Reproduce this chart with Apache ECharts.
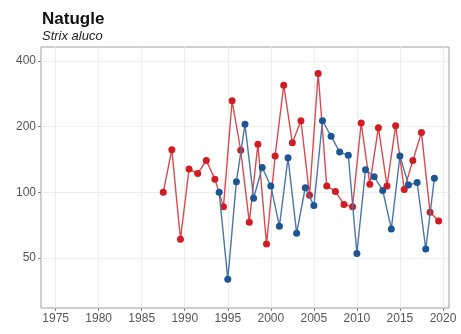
<!DOCTYPE html>
<html><head><meta charset="utf-8">
<script src="https://cdn.jsdelivr.net/npm/echarts@6/dist/echarts.min.js"></script>
<style>html,body{margin:0;padding:0;background:#fff}#c{width:461px;height:334px}</style>
</head><body><div id="c"></div>
<script>
// Red series: plotted at mid-year positions
const redYears = [1987.5,1988.5,1989.5,1990.5,1991.5,1992.5,1993.5,1994.5,1995.5,1996.5,1997.5,1998.5,1999.5,2000.5,2001.5,2002.5,2003.5,2004.5,2005.5,2006.5,2007.5,2008.5,2009.5,2010.5,2011.5,2012.5,2013.5,2014.5,2015.5,2016.5,2017.5,2018.5,2019.5];
const redValues = [100,157,61,128,122,140,115,86,263,156,73,166,58,147,310,169,213,97,351,107,101,88,86,208,109,198,107,202,103,140,188,81,74];
const blueYears = [1994,1995,1996,1997,1998,1999,2000,2001,2002,2003,2004,2005,2006,2007,2008,2009,2010,2011,2012,2013,2014,2015,2016,2017,2018,2019];
const blueValues = [100,40,112,205,94,130,107,70,144,65,105,87,213,181,153,148,52.5,127,118,102,68,147,108,111,55,116];
const xTicks = [1975,1980,1985,1990,1995,2000,2005,2010,2015,2020];
const yTicks = [50,100,200,400];
const titleText = 'Natugle';
const subtitleText = 'Strix aluco';

const chart = echarts.init(document.getElementById('c'), null, {renderer:'canvas'});
const font = '"Liberation Sans", Arial, sans-serif';
chart.setOption({
  animation:false,
  backgroundColor:'#fff',
  title:{
    text:titleText, subtext:subtitleText, left:37, top:6, itemGap:2,
    textStyle:{fontFamily:font,fontWeight:'bold',fontSize:17,color:'#111'},
    subtextStyle:{fontFamily:font,fontStyle:'italic',fontSize:13,color:'#222'}
  },
  grid:{left:41,top:47,right:12,bottom:26,show:true,borderColor:'#a0a0a0',borderWidth:1},
  xAxis:{
    type:'value', min:1973.3, max:2020.7,
    axisLine:{show:false},
    axisTick:{show:true,customValues:xTicks,length:3,lineStyle:{color:'#888'}},
    axisLabel:{customValues:xTicks,formatter:v=>String(Math.round(v)),fontFamily:font,fontSize:12,color:'#555',margin:5,hideOverlap:false},
    splitLine:{show:true,lineStyle:{color:'#eeeeee',width:1}}
  },
  yAxis:{
    type:'log', logBase:2, min:29.5, max:464,
    axisLine:{show:false},
    axisTick:{show:true,customValues:yTicks,length:3,lineStyle:{color:'#888'}},
    axisLabel:{customValues:yTicks,formatter:v=>String(Math.round(v)),fontFamily:font,fontSize:12,color:'#555',margin:5},
    splitLine:{show:true,lineStyle:{color:'#eeeeee',width:1}}
  },
  series:[
    {type:'line', data:redYears.map((y,i)=>[y,redValues[i]]), symbol:'circle', symbolSize:7,
     itemStyle:{color:'#d01c22'}, lineStyle:{color:'#d94a4f',width:1.4}, z:2},
    {type:'line', data:blueYears.map((y,i)=>[y,blueValues[i]]), symbol:'circle', symbolSize:7,
     itemStyle:{color:'#1d5595'}, lineStyle:{color:'#4a76a8',width:1.4}, z:3}
  ]
});
</script></body></html>
